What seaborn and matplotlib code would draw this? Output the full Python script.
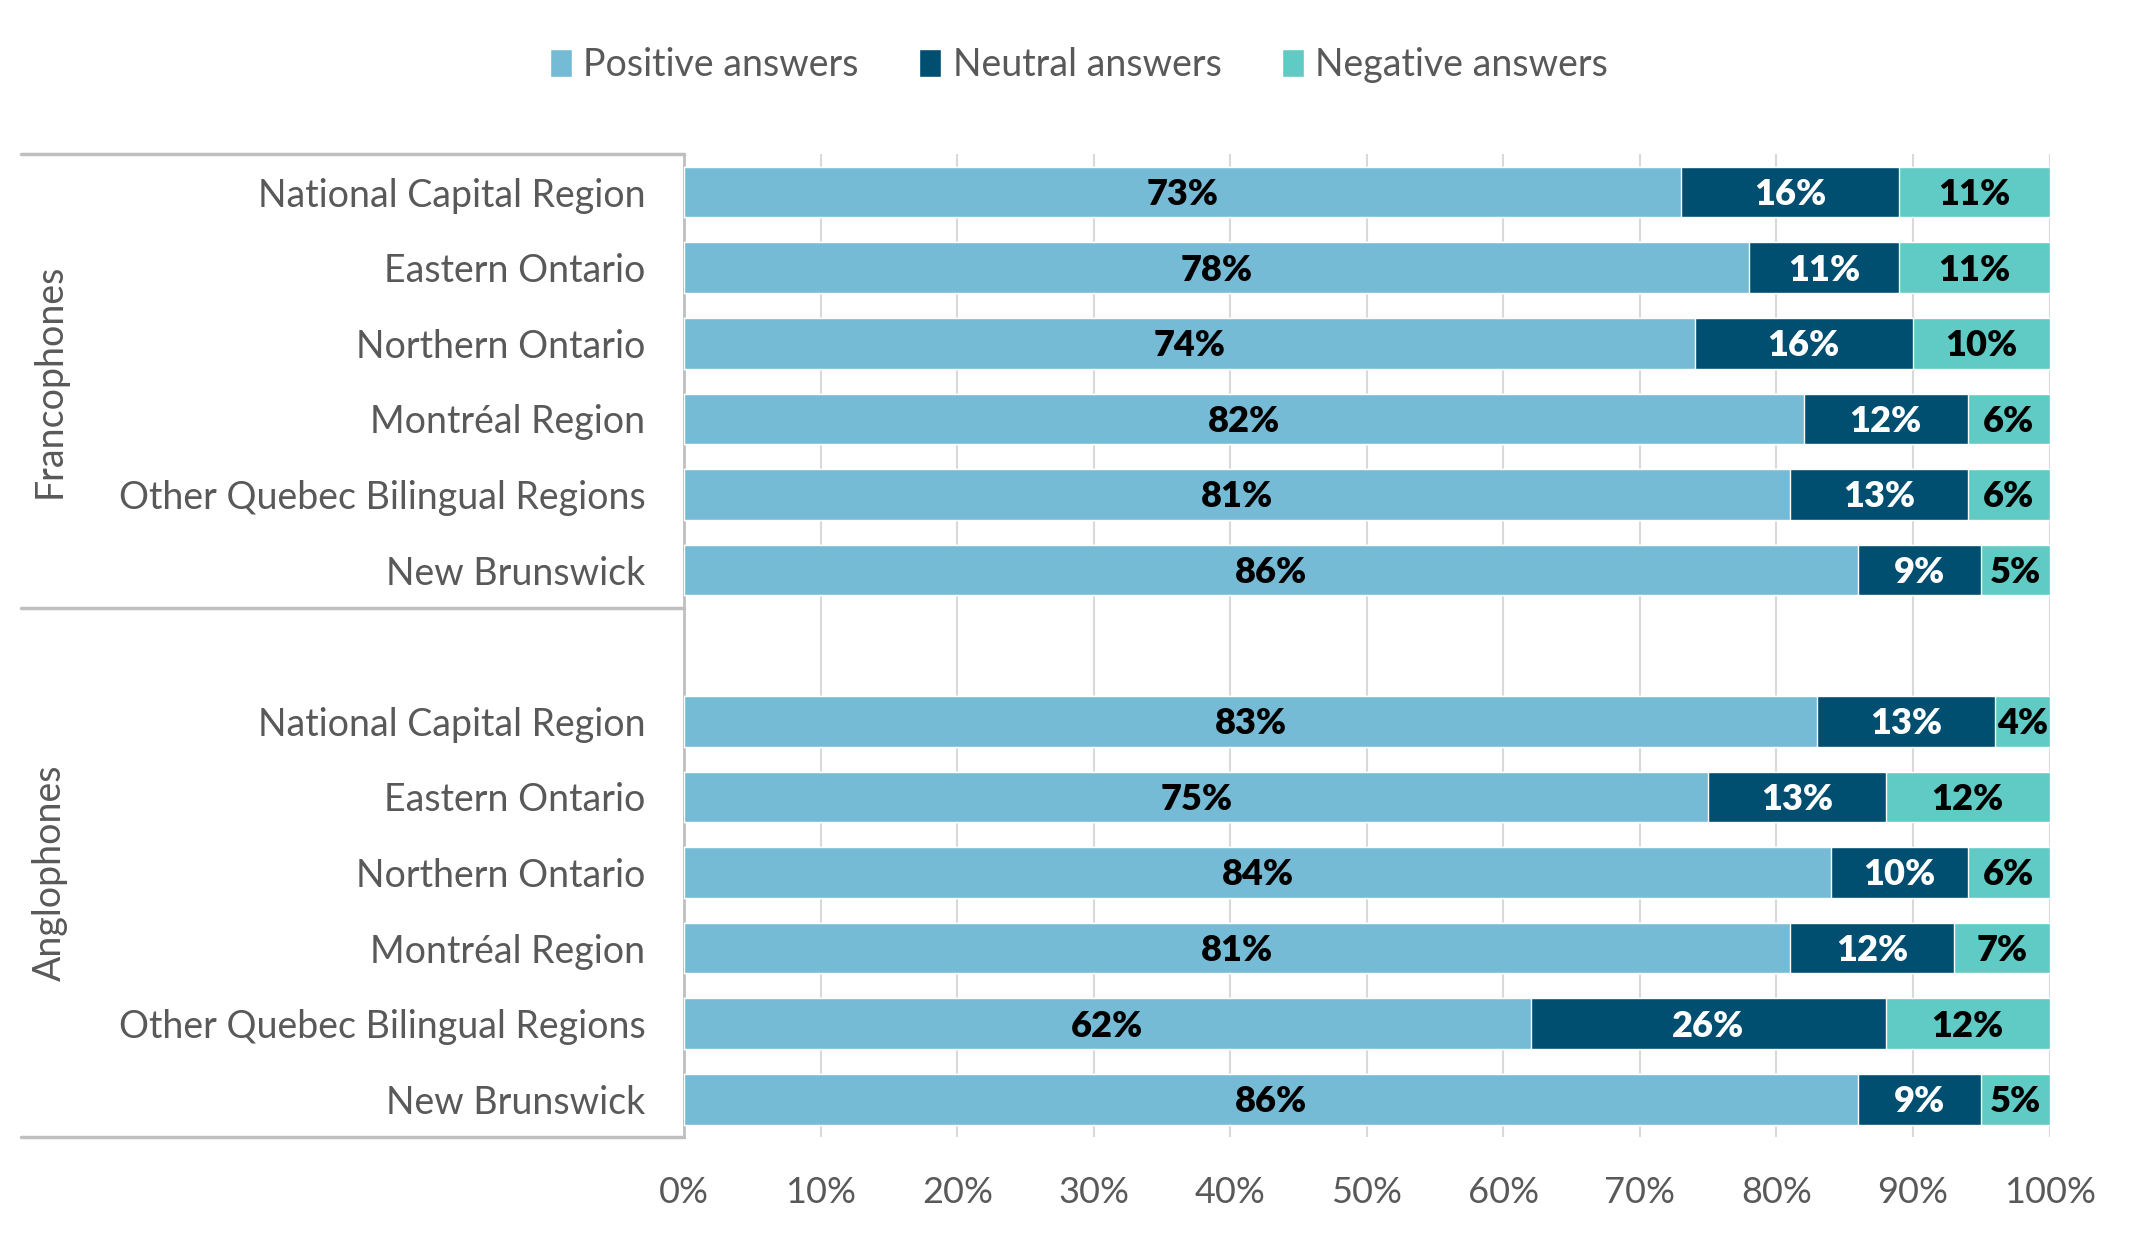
import matplotlib.pyplot as plt
import seaborn as sns
import pandas as pd
from matplotlib.patches import Patch
import matplotlib.transforms as mtransforms

groups = ["Francophones", "Anglophones"]
regions = ["National Capital Region", "Eastern Ontario", "Northern Ontario",
           "Montréal Region", "Other Quebec Bilingual Regions", "New Brunswick"]
positive = [73, 78, 74, 82, 81, 86, 83, 75, 84, 81, 62, 86]
neutral = [16, 11, 16, 12, 13, 9, 13, 13, 10, 12, 26, 9]
negative = [11, 11, 10, 6, 6, 5, 4, 12, 6, 7, 12, 5]
series = ["Positive answers", "Neutral answers", "Negative answers"]
colors = ["#75BBD5", "#004E70", "#5FCBC4"]
label_colors = ["black", "white", "black"]

keys = [g[0] + "|" + r for g in groups for r in regions]
df = pd.DataFrame({"key": keys, "pos": positive, "neu": neutral, "neg": negative})
df["c1"] = df["pos"]
df["c2"] = df["pos"] + df["neu"]
df["c3"] = df["pos"] + df["neu"] + df["neg"]
order = keys[:6] + ["gap"] + keys[6:]

sns.set_style("white")
plt.rcParams["font.family"] = ["Lato", "DejaVu Sans"]
text_color = "#595959"

fig = plt.figure(figsize=(21.45, 12.51), dpi=100)
ax = fig.add_axes([0.319, 0.091, 0.6365, 0.7856])

for col, c in zip(["c3", "c2", "c1"], colors[::-1]):
    sns.barplot(data=df, x=col, y="key", order=order, color=c, orient="h",
                width=0.67, saturation=1, ax=ax, zorder=3)

# segment labels
for _, row in df.iterrows():
    y = order.index(row["key"])
    starts = [0, row["c1"], row["c2"]]
    vals = [row["pos"], row["neu"], row["neg"]]
    for s, v, lc in zip(starts, vals, label_colors):
        ax.text(s + v / 2, y + 0.03, f"{v}%", ha="center", va="center", color=lc,
                fontsize=26, fontweight="heavy", zorder=4)

ax.set_xlim(0, 100)
ax.set_ylim(12.5, -0.5)
ax.set_xticks(range(0, 101, 10))
ax.set_xticklabels([f"{t}%" for t in range(0, 101, 10)], fontsize=26, color=text_color)
ax.set_yticks(range(len(order)))
ax.set_yticklabels([k.split("|")[1] if "|" in k else "" for k in order],
                   fontsize=27, color=text_color)
ax.tick_params(axis="x", length=0, pad=28)
ax.tick_params(axis="y", length=0, pad=28)
ax.set_xlabel("")
ax.set_ylabel("")
ax.grid(axis="x", color="#D9D9D9", linewidth=1.5, zorder=0)
for s in ["top", "right", "bottom"]:
    ax.spines[s].set_visible(False)
ax.spines["left"].set_color("#BFBFBF")
ax.spines["left"].set_linewidth(2)

# group brackets
trans = mtransforms.blended_transform_factory(ax.transAxes, ax.transData)
for y in [-0.5, 5.5, 12.5]:
    ax.plot([-0.486, 0], [y, y], color="#BFBFBF", linewidth=2.5,
            transform=trans, clip_on=False)
for g, yc in zip(groups, [2.5, 9.0]):
    ax.text(-0.465, yc, g, rotation=90, ha="center", va="center",
            fontsize=27, color=text_color, transform=trans)

handles = [Patch(facecolor=c, label=s) for s, c in zip(series, colors)]
fig.legend(handles=handles, loc="center", bbox_to_anchor=(0.503, 0.948), ncol=3,
           frameon=False, fontsize=27, labelcolor=text_color,
           handlelength=0.6, handleheight=0.8, handletextpad=0.3, columnspacing=1.6)

fig.savefig("out.png", dpi=100)
